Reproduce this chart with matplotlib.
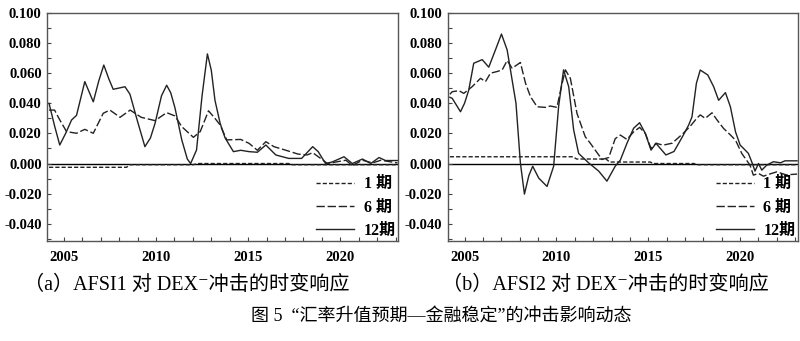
import matplotlib
matplotlib.use('Agg')
import matplotlib.pyplot as plt
from matplotlib.ticker import MultipleLocator, FormatStrFormatter

plt.rcParams['axes.unicode_minus'] = False

# (a) AFSI1 response to DEX- shock
a12_year = [2004.2, 2004.5, 2004.78, 2005.1, 2005.42, 2005.69, 2006.14, 2006.6, 2006.9, 2007.17,
            2007.45, 2007.68, 2008.32, 2008.59, 2009.0, 2009.4, 2009.7, 2009.95, 2010.3, 2010.58,
            2010.8, 2011.03, 2011.4, 2011.7, 2011.88, 2012.2, 2012.5, 2012.79, 2013.0, 2013.2,
            2013.48, 2013.75, 2014.2, 2014.6, 2015.05, 2015.5, 2015.96, 2016.5, 2017.2, 2017.9,
            2018.5, 2018.8, 2019.2, 2019.55, 2020.2, 2020.65, 2021.2, 2021.65, 2022.1, 2022.45,
            2023.1]
a12_val = [0.040, 0.025, 0.0123, 0.020, 0.0289, 0.032, 0.0544, 0.041, 0.055, 0.0654,
           0.056, 0.0493, 0.051, 0.046, 0.028, 0.0112, 0.017, 0.0267, 0.045, 0.052,
           0.047, 0.037, 0.0157, 0.003, 0.000, 0.009, 0.045, 0.0728, 0.062, 0.042,
           0.0267, 0.017, 0.0079, 0.0088, 0.0079, 0.0075, 0.0123, 0.0057, 0.0034, 0.0034,
           0.0112, 0.0079, 0.000, 0.001, 0.0045, 0.000, 0.003, 0.000, 0.004, 0.002,
           0.002]

a6_year = [2004.2, 2004.5, 2004.78, 2005.15, 2005.69, 2006.14, 2006.6, 2007.14, 2007.5, 2008.05,
           2008.6, 2009.2, 2009.95, 2010.58, 2011.03, 2011.4, 2012.03, 2012.4, 2012.85, 2013.2,
           2013.48, 2013.84, 2014.6, 2015.05, 2015.5, 2015.96, 2016.4, 2017.0, 2017.7, 2018.2,
           2018.5, 2019.0, 2019.3, 2019.75, 2020.3, 2020.65, 2021.2, 2021.75, 2022.2, 2023.1]
a6_val = [0.0355, 0.0355, 0.029, 0.0212, 0.0201, 0.0227, 0.0201, 0.0334, 0.0355, 0.0307,
          0.0355, 0.0307, 0.0285, 0.0338, 0.0316, 0.0245, 0.0174, 0.0212, 0.035, 0.030,
          0.0256, 0.0157, 0.016, 0.0134, 0.0088, 0.0145, 0.0112, 0.009, 0.0063, 0.0057,
          0.0072, 0.0028, 0.000, 0.001, 0.0022, -0.0013, 0.0022, 0.0004, 0.0022, 0.0004]

a1_year = [2004.2, 2008.4, 2008.6, 2012.0, 2012.3, 2017.2, 2017.4, 2023.1]
a1_val = [-0.0025, -0.0025, -0.0008, -0.0008, 0.0, 0.0, -0.0008, -0.0008]

# (b) AFSI2 response to DEX- shock
b12_year = [2004.2, 2004.33, 2004.78, 2005.0, 2005.23, 2005.5, 2005.96, 2006.32, 2006.68, 2007.01,
            2007.32, 2007.59, 2007.8, 2008.04, 2008.26, 2008.5, 2008.71, 2009.04, 2009.49, 2009.85,
            2010.12, 2010.39, 2010.67, 2010.94, 2011.21, 2011.76, 2012.3, 2012.75, 2013.2, 2013.48,
            2013.84, 2014.2, 2014.53, 2014.84, 2015.15, 2015.42, 2015.96, 2016.4, 2016.86, 2017.2,
            2017.38, 2017.62, 2017.83, 2018.24, 2018.56, 2018.83, 2019.2, 2019.47, 2019.75, 2020.0,
            2020.27, 2020.45, 2020.63, 2020.81, 2021.0, 2021.18, 2021.45, 2021.81, 2022.2, 2022.44,
            2023.1]
b12_val = [0.0440, 0.0433, 0.0344, 0.040, 0.0488, 0.0666, 0.069, 0.064, 0.0754, 0.086,
           0.0754, 0.0555, 0.040, 0.0004, -0.0203, -0.008, -0.0018, -0.0097, -0.0152, -0.0018,
           0.0378, 0.0622, 0.051, 0.0223, 0.0067, 0.0004, -0.005, -0.0117, -0.0018, 0.0023,
           0.0134, 0.0234, 0.0271, 0.020, 0.0089, 0.0134, 0.0057, 0.008, 0.0178, 0.0256,
           0.031, 0.0533, 0.0621, 0.0588, 0.051, 0.042, 0.0471, 0.0377, 0.021, 0.0123,
           0.009, 0.0067, 0.0012, -0.005, 0.0, -0.0044, -0.001, 0.0012, 0.0005, 0.0018,
           0.0018]

b6_year = [2004.2, 2004.33, 2004.69, 2004.96, 2005.41, 2005.87, 2006.14, 2006.41, 2006.77, 2007.05,
           2007.32, 2007.59, 2008.04, 2008.32, 2008.59, 2008.95, 2009.4, 2009.67, 2010.03, 2010.25,
           2010.49, 2010.76, 2011.12, 2011.57, 2011.85, 2012.48, 2012.85, 2013.2, 2013.48, 2013.84,
           2014.2, 2014.53, 2014.84, 2015.15, 2015.42, 2015.8, 2016.3, 2016.9, 2017.3, 2017.65,
           2017.83, 2018.1, 2018.47, 2018.74, 2019.1, 2019.47, 2019.75, 2020.09, 2020.54, 2020.72,
           2021.0, 2021.27, 2021.6, 2022.0, 2022.5, 2023.1]
b6_val = [0.046, 0.0477, 0.0484, 0.0466, 0.051, 0.0566, 0.0544, 0.060, 0.0611, 0.0622,
          0.0684, 0.0633, 0.0671, 0.0533, 0.0444, 0.0377, 0.0373, 0.0382, 0.0373, 0.050,
          0.0622, 0.0566, 0.0333, 0.0178, 0.0134, 0.0027, 0.004, 0.0165, 0.0189, 0.016,
          0.021, 0.024, 0.020, 0.010, 0.0135, 0.0122, 0.0135, 0.020, 0.025, 0.0302,
          0.0323, 0.030, 0.0337, 0.029, 0.0233, 0.019, 0.0155, 0.0067, -0.0011, -0.0077,
          -0.0066, -0.0084, -0.007, -0.0055, -0.0075, -0.0070]

b1_year = [2004.2, 2010.9, 2011.1, 2012.7, 2012.9, 2015.1, 2015.3, 2017.5, 2017.6, 2023.1]
b1_val = [0.0045, 0.0045, 0.003, 0.003, 0.001, 0.001, 0.0, 0.0, -0.0008, -0.0008]

horizon_labels = ['1 期', '6 期', '12期']
captions = ['（a）AFSI1 对 DEX⁻冲击的时变响应', '（b）AFSI2 对 DEX⁻冲击的时变响应']
fig_title = '图 5  “汇率升值预期—金融稳定”的冲击影响动态'

LINE = '#222222'
SERIF_CJK = ['Liberation Serif', 'Noto Sans CJK SC', 'DejaVu Sans']


def draw_panel(ax, s1, s6, s12):
    ax.axhline(0, color='black', lw=1.0, zorder=1)
    ax.plot(s1[0], s1[1], color=LINE, lw=1.0, dashes=(3, 1.5), label=horizon_labels[0])
    ax.plot(s6[0], s6[1], color=LINE, lw=1.0, dashes=(6, 2), label=horizon_labels[1])
    ax.plot(s12[0], s12[1], color=LINE, lw=1.0, label=horizon_labels[2])

    ax.set_xlim(2004.1, 2023.15)
    ax.set_ylim(-0.0515, 0.1)
    ax.set_xticks([2005, 2010, 2015, 2020])
    ax.xaxis.set_minor_locator(MultipleLocator(1))
    ax.set_yticks([-0.04, -0.02, 0.0, 0.02, 0.04, 0.06, 0.08, 0.10])
    ax.yaxis.set_minor_locator(MultipleLocator(0.01))
    ax.yaxis.set_major_formatter(FormatStrFormatter('%.3f'))
    ax.tick_params(which='both', direction='in', color='#444444', width=0.8)
    ax.tick_params(which='major', length=3)
    ax.tick_params(axis='x', which='major', pad=7)
    ax.tick_params(axis='y', which='major', pad=4)
    ax.tick_params(which='minor', length=3)
    for lab in ax.get_xticklabels() + ax.get_yticklabels():
        lab.set_fontfamily('Liberation Serif')
        lab.set_fontweight('bold')
        lab.set_fontsize(10.5)
    for sp in ax.spines.values():
        sp.set_color('#555555')
        sp.set_linewidth(1.0)

    leg = ax.legend(loc='lower right', frameon=False, handlelength=2.4, handletextpad=0.6,
                    labelspacing=0.45, borderaxespad=0.0, borderpad=0.15,
                    prop={'family': SERIF_CJK, 'weight': 'bold', 'size': 11.5})
    return leg


fig = plt.figure(figsize=(8, 3.41), dpi=100)
ax_a = fig.add_axes([0.059, 0.293, 0.439, 0.669])
ax_b = fig.add_axes([0.560, 0.293, 0.4375, 0.669])

draw_panel(ax_a, (a1_year, a1_val), (a6_year, a6_val), (a12_year, a12_val))
draw_panel(ax_b, (b1_year, b1_val), (b6_year, b6_val), (b12_year, b12_val))

fig.text(0.233, 0.162, captions[0], ha='center', va='center', fontsize=14.5,
         family=SERIF_CJK)
fig.text(0.757, 0.162, captions[1], ha='center', va='center', fontsize=14.5,
         family=SERIF_CJK)
fig.text(0.552, 0.074, fig_title, ha='center', va='center', fontsize=13,
         family=SERIF_CJK)

fig.savefig('out.png', dpi=100)
